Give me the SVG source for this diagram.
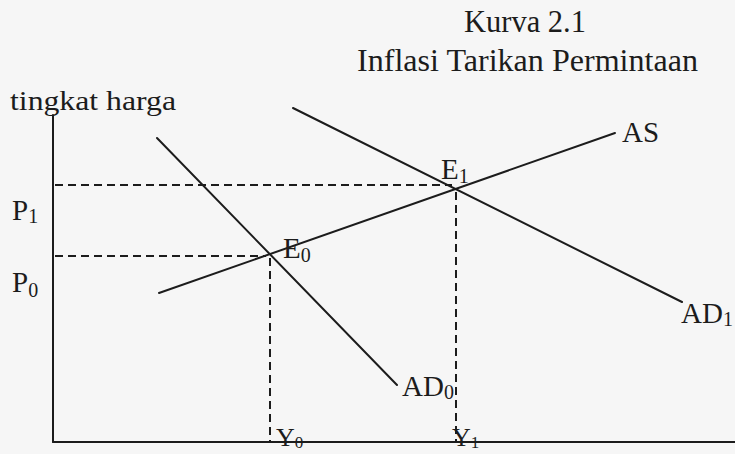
<svg xmlns="http://www.w3.org/2000/svg" width="735" height="454" viewBox="0 0 735 454">
  <style>
    .t { font-family: "Liberation Serif", "Times New Roman", serif; fill: #1c1c1c; }
    .lbl { font-size: 29px; }
    .sub { font-size: 20px; }
    .ln { stroke: #1c1c1c; stroke-width: 2; fill: none; stroke-linecap: round; }
    .dash { stroke: #1c1c1c; stroke-width: 2; fill: none; stroke-dasharray: 8 5; }
  </style>
  <rect x="0" y="0" width="735" height="454" fill="#f6f6f6"/>

  <g id="title">
    <text class="t" x="464" y="32" font-size="31" textLength="122" lengthAdjust="spacingAndGlyphs">Kurva 2.1</text>
    <text class="t" x="357" y="71" font-size="31" textLength="341" lengthAdjust="spacingAndGlyphs">Inflasi Tarikan Permintaan</text>
  </g>

  <g id="axes">
    <line class="ln" x1="53" y1="115" x2="53" y2="442"/>
    <line class="ln" x1="53" y1="442" x2="735" y2="442"/>
    <text class="t" x="10" y="110" font-size="28" textLength="166" lengthAdjust="spacingAndGlyphs">tingkat harga</text>
  </g>

  <g id="connectors">
    <line id="AS-line" class="ln" x1="159" y1="293" x2="615" y2="133"/>
    <line id="AD0-line" class="ln" x1="157" y1="138" x2="397" y2="385"/>
    <line id="AD1-line" class="ln" x1="293" y1="108" x2="682" y2="302"/>
    <line class="dash" x1="55" y1="185" x2="452" y2="185"/>
    <line class="dash" x1="456" y1="192" x2="456" y2="441"/>
    <line class="dash" x1="55" y1="256" x2="266" y2="256"/>
    <line class="dash" x1="270" y1="258" x2="270" y2="441"/>
  </g>

  <g id="AS">
    <text class="t lbl" x="622" y="142" font-size="31">AS</text>
  </g>
  <g id="AD0">
    <text class="t lbl" x="402" y="396">AD<tspan class="sub" dy="3">0</tspan></text>
  </g>
  <g id="AD1">
    <text class="t lbl" x="681" y="323">AD<tspan class="sub" dy="3">1</tspan></text>
  </g>
  <g id="E1">
    <text class="t lbl" x="441" y="179">E<tspan class="sub" dy="4">1</tspan></text>
  </g>
  <g id="E0">
    <text class="t lbl" x="283" y="258">E<tspan class="sub" dy="4">0</tspan></text>
  </g>
  <g id="P1">
    <text class="t lbl" x="12" y="220">P<tspan class="sub" dy="3">1</tspan></text>
  </g>
  <g id="P0">
    <text class="t lbl" x="12" y="292">P<tspan class="sub" dy="5">0</tspan></text>
  </g>
  <g id="Y0">
    <text class="t" x="276" y="446" font-size="26">Y<tspan font-size="17" dy="2">0</tspan></text>
  </g>
  <g id="Y1">
    <text class="t" x="452" y="446" font-size="26">Y<tspan font-size="17" dy="2">1</tspan></text>
  </g>
</svg>
